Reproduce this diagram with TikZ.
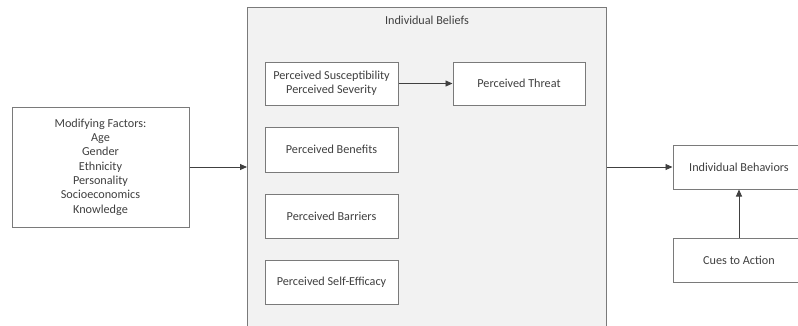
\documentclass[tikz,border=0pt]{standalone}
\usepackage{fontspec}
\setmainfont{Carlito}
\usetikzlibrary{arrows.meta}
\definecolor{boxline}{HTML}{7A7A7A}
\definecolor{txt}{HTML}{404040}
\definecolor{bgfill}{HTML}{F2F2F2}
\begin{document}
\begin{tikzpicture}[x=1pt,y=-1pt,
  box/.style={draw=boxline, line width=1pt, fill=white, text=txt, align=center,
    font=\fontsize{12.2}{14.3}\selectfont, inner sep=0pt},
  conn/.style={draw=black!75, line width=0.9pt, -{Triangle[length=7pt,width=6pt]}}]
\useasboundingbox (0,0) rectangle (798,325);
\begin{scope}
\clip (0,0) rectangle (798,325);
\node[draw=boxline, line width=1pt, fill=bgfill, minimum width=359pt, minimum height=340pt, inner sep=0pt, anchor=north west] (beliefs) at (247,7) {};
\node[text=txt, font=\fontsize{12.2}{14.3}\selectfont] (title) at (427,20) {Individual Beliefs};
\node[box, minimum width=133pt, minimum height=43pt] (sus) at (331.5,83.5) {Perceived Susceptibility\\Perceived Severity};
\node[box, minimum width=132pt, minimum height=43pt] (threat) at (519,83.5) {Perceived Threat};
\node[box, minimum width=133pt, minimum height=45pt] (ben) at (331.5,149.5) {Perceived Benefits};
\node[box, minimum width=133pt, minimum height=44pt] (bar) at (331.5,216) {Perceived Barriers};
\node[box, minimum width=133pt, minimum height=44pt] (self) at (331.5,282) {Perceived Self-Efficacy};
\node[box, minimum width=177pt, minimum height=120pt] (mod) at (100.5,167) {Modifying Factors:\\Age\\Gender\\Ethnicity\\Personality\\Socioeconomics\\Knowledge};
\node[box, minimum width=132pt, minimum height=44pt] (beh) at (739,167) {Individual Behaviors};
\node[box, minimum width=132pt, minimum height=44pt] (cues) at (739,260) {Cues to Action};
\draw[conn] (sus.east) -- (threat.west);
\draw[conn] (mod.east) -- (mod.east -| beliefs.west);
\draw[conn] (beh.west -| beliefs.east) -- (beh.west);
\draw[conn] (cues.north) -- (beh.south);
\end{scope}
\end{tikzpicture}
\end{document}
